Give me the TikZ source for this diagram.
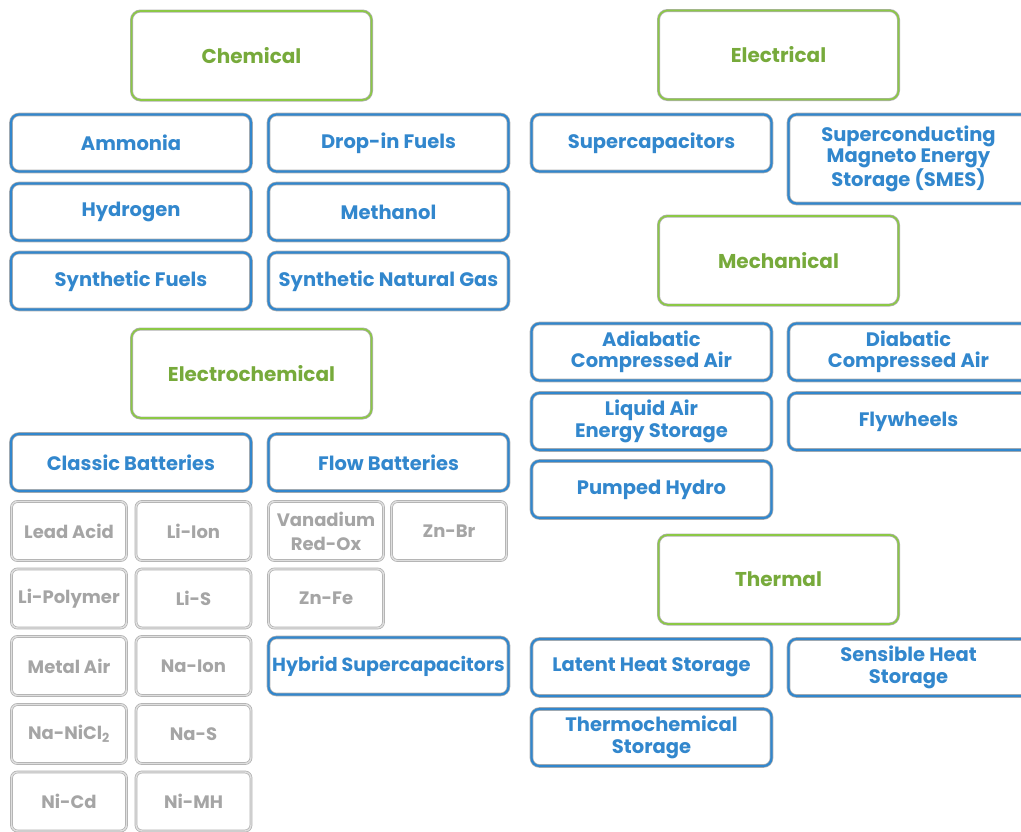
\documentclass[tikz,border=0pt]{standalone}
\usepackage{fontspec}
\setmainfont{Poppins}
\usepackage{tikz}
\usetikzlibrary{positioning}
\definecolor{catgreen}{RGB}{140,200,70}
\definecolor{techblue}{RGB}{50,135,205}
\definecolor{halo}{RGB}{175,175,175}
\definecolor{subgray}{RGB}{165,165,165}
\tikzset{
	cat/.style={rectangle,rounded corners=9pt,draw=halo,double=catgreen,double distance=1.6pt,line width=0.7pt,minimum width=240pt,minimum height=89pt,inner sep=2pt,text=catgreen!85!black,font=\fontsize{20}{22}\selectfont\bfseries,align=center},
	tech/.style={rectangle,rounded corners=8pt,draw=halo,double=techblue,double distance=2.2pt,line width=0.7pt,minimum width=240pt,minimum height=57pt,inner sep=1pt,text=techblue,font=\fontsize{19.5}{21.5}\selectfont\bfseries,align=center},
	sub/.style={rectangle,rounded corners=6pt,draw=halo,double=subgray!35,double distance=1.4pt,line width=0.7pt,minimum width=115pt,minimum height=59pt,inner sep=1pt,text=subgray,font=\fontsize{18}{24}\selectfont\bfseries,align=center}}

\begin{document}
\begin{tikzpicture}[x=1pt,y=-1pt]
	\useasboundingbox (0,0) rectangle (1021,831);
	\clip (0,0) rectangle (1021,831);
	\node (chem) at (251.5,55.5) [cat] {Chemical};
	\node (ammonia) at (131,143) [tech] {Ammonia};
	\node (dropin) at (388.5,143) [tech] {Drop-in Fuels};
	\node (hydrogen) at (131,212) [tech] {Hydrogen};
	\node (methanol) at (388.5,212) [tech] {Methanol};
	\node (synfuel) at (131,281) [tech] {Synthetic Fuels};
	\node (sng) at (388.5,281) [tech] {Synthetic Natural Gas};
	\node (echem) at (251.5,373.5) [cat] {Electrochemical};
	\node (classic) at (131,462.5) [tech] {Classic Batteries};
	\node (flow) at (388.5,462.5) [tech] {Flow Batteries};
	\node (leadacid) at (69,531) [sub] {Lead Acid};
	\node (liion) at (193.5,531) [sub] {Li-Ion};
	\node (vanadium) at (326,531) [sub] {Vanadium\\Red-Ox};
	\node (znbr) at (449,531) [sub] {Zn-Br};
	\node (lipoly) at (69,598.5) [sub] {Li-Polymer};
	\node (lis) at (193.5,598.5) [sub] {Li-S};
	\node (znfe) at (326,598.5) [sub] {Zn-Fe};
	\node (metalair) at (69,666) [sub] {Metal Air};
	\node (naion) at (193.5,666) [sub] {Na-Ion};
	\node (hybrid) at (388.5,666) [tech,font=\fontsize{19}{21.5}\selectfont\bfseries] {Hybrid Supercapacitors};
	\node (nanicl) at (69,734) [sub] {Na-NiCl\textsubscript{2}};
	\node (nas) at (193.5,734) [sub] {Na-S};
	\node (nicd) at (69,801.5) [sub] {Ni-Cd};
	\node (nimh) at (193.5,801.5) [sub] {Ni-MH};
	\node (elec) at (778.5,55) [cat] {Electrical};
	\node (supercap) at (651.5,143) [tech] {Supercapacitors};
	\node (smes) at (908.5,159) [tech,minimum height=89pt] {Superconducting\\Magneto Energy\\Storage (SMES)};
	\node (mech) at (778.5,260.5) [cat] {Mechanical};
	\node (adiab) at (651.5,352) [tech] {Adiabatic\\Compressed Air};
	\node (diab) at (908.5,352) [tech] {Diabatic\\Compressed Air};
	\node (liquid) at (651.5,421.5) [tech] {Liquid Air\\Energy Storage};
	\node (flywheel) at (908.5,421.5) [tech] {Flywheels};
	\node (pumped) at (651.5,489.5) [tech] {Pumped Hydro};
	\node (thermal) at (778.5,579.5) [cat] {Thermal};
	\node (latent) at (651.5,667.5) [tech] {Latent Heat Storage};
	\node (sensible) at (908.5,667.5) [tech] {Sensible Heat\\Storage};
	\node (thermochem) at (651.5,737.5) [tech] {Thermochemical\\Storage};
\end{tikzpicture}
\end{document}
